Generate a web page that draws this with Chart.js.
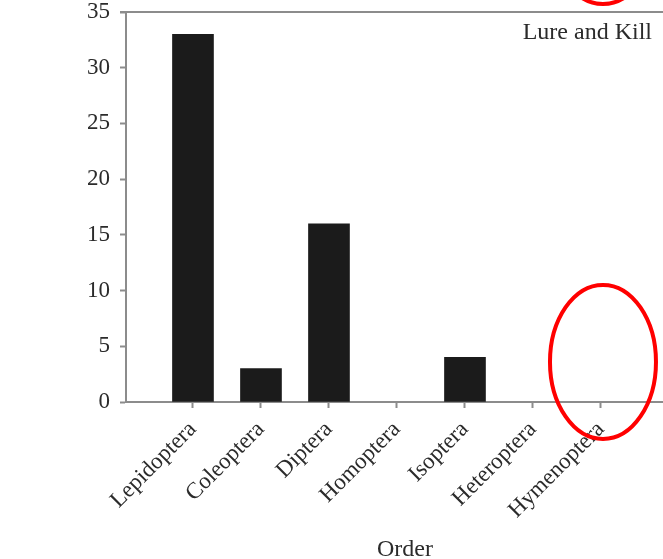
<!DOCTYPE html>
<html>
<head>
<meta charset="utf-8">
<script src="https://cdn.jsdelivr.net/npm/chart.js@4/dist/chart.umd.min.js"></script>
<style>
  html, body { margin: 0; padding: 0; background: #fff; }
  #wrap { width: 663px; height: 559px; position: relative; }
</style>
</head>
<body>
<div id="wrap"><canvas id="c" width="663" height="559"></canvas></div>
<script>
// Insect orders caught with the lure-and-kill treatment
const orders = ['Lepidoptera', 'Coleoptera', 'Diptera', 'Homoptera', 'Isoptera', 'Heteroptera', 'Hymenoptera'];
const counts = [33, 3, 16, 0, 4, 0, 0];
const yTicks = [0, 5, 10, 15, 20, 25, 30, 35];
const panelLabel = 'Lure and Kill';
const xTitle = 'Order';

const FONT = "'Liberation Serif', 'Times New Roman', serif";
const AXIS = '#8c8c8c';
const INK = '#2b2b2b';

// Panel label, axis title, the top frame line and the highlight ellipses
const decorations = {
  id: 'decorations',
  afterDraw(chart) {
    const { ctx, chartArea, scales } = chart;
    ctx.save();
    // top frame line
    ctx.strokeStyle = AXIS;
    ctx.lineWidth = 2;
    ctx.beginPath();
    ctx.moveTo(chartArea.left - 6, chartArea.top);
    ctx.lineTo(chart.width, chartArea.top);
    ctx.stroke();
    // panel label
    ctx.fillStyle = INK;
    ctx.font = '24px ' + FONT;
    ctx.textAlign = 'right';
    ctx.textBaseline = 'alphabetic';
    ctx.fillText(panelLabel, 652, 39);
    // x axis title, centred under the full (clipped) plot width
    ctx.textAlign = 'center';
    ctx.fillText(xTitle, 405, 556);
    // highlight around the last order
    const cx = scales.x.getPixelForValue(orders.length - 1) + 2;
    ctx.strokeStyle = '#ff0000';
    ctx.lineWidth = 4;
    ctx.beginPath();
    ctx.ellipse(cx, scales.y.getPixelForValue(3.6), 53, 77, 0, 0, Math.PI * 2);
    ctx.stroke();
    ctx.beginPath();
    ctx.ellipse(cx, -73, 53, 77, 0, 0, Math.PI * 2);
    ctx.stroke();
    ctx.restore();
  }
};

new Chart(document.getElementById('c'), {
  type: 'bar',
  data: {
    datasets: [{
      data: orders.map((o, i) => ({ x: i, y: counts[i] })),
      // empty orders leave no sliver on the axis
      backgroundColor: c => (c.raw && c.raw.y > 0) ? '#1b1b1b' : 'rgba(0,0,0,0)',
      borderWidth: 0,
      barThickness: 41
    }]
  },
  options: {
    responsive: false,
    animation: false,
    devicePixelRatio: 1,
    layout: { padding: { top: 12, right: 0, left: 0, bottom: 0 } },
    plugins: { legend: { display: false }, tooltip: { enabled: false } },
    scales: {
      x: {
        type: 'linear',
        offset: false,
        min: -0.985,
        max: 6.912,
        afterBuildTicks: s => { s.ticks = orders.map((o, i) => ({ value: i })); },
        afterFit: s => { s.height = 157; s.paddingLeft = 0; s.paddingRight = 0; },
        grid: { display: true, offset: false, drawOnChartArea: false, drawTicks: true, tickLength: 6, tickColor: AXIS, tickWidth: 2 },
        border: { display: true, color: AXIS, width: 2 },
        ticks: {
          autoSkip: false,
          maxRotation: 45,
          minRotation: 45,
          padding: 8,
          color: INK,
          font: { family: FONT, size: 23 },
          callback: v => orders[v]
        }
      },
      y: {
        min: 0,
        max: 35,
        afterBuildTicks: s => { s.ticks = yTicks.map(v => ({ value: v })); },
        afterFit: s => { s.width = 126; s.paddingTop = 0; s.paddingBottom = 0; },
        grid: { display: true, drawOnChartArea: false, drawTicks: true, tickLength: 6, tickColor: AXIS, tickWidth: 2 },
        border: { display: true, color: AXIS, width: 2 },
        ticks: { padding: 10, color: INK, font: { family: FONT, size: 23 } }
      }
    }
  },
  plugins: [decorations]
});
</script>
</body>
</html>
